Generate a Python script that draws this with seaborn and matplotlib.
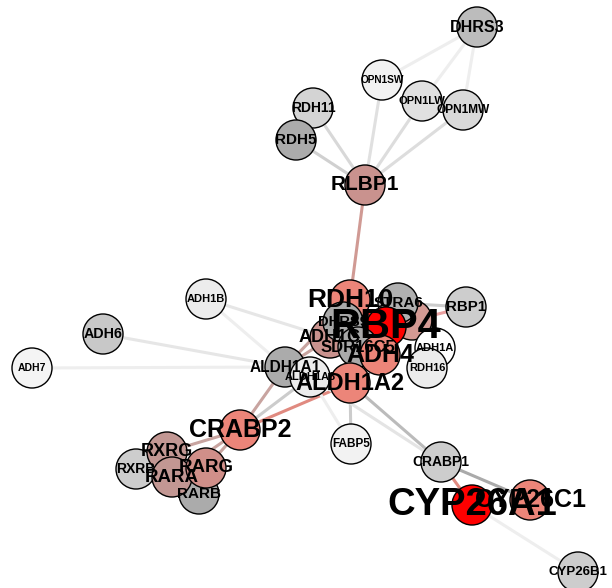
import matplotlib
matplotlib.use("Agg")
import matplotlib.pyplot as plt
import pandas as pd
import seaborn as sns

# Node data (layout position in pixels, fill colour, label size)
node_names = [
    "OPN1SW", "OPN1LW", "OPN1MW", "DHRS3", "RDH11", "RDH5", "RLBP1",
    "ADH1B", "ADH6", "ADH7", "RBP1", "", "RDH10", "STRA6", "RBP4",
    "ADH1C", "DHRS9", "SDR16C5", "ADH4", "ADH1A", "RDH16",
    "ALDH1A1", "ALDH1A3", "ALDH1A2", "FABP5", "CRABP2",
    "RARB", "RXRB", "RXRG", "RARA", "RARG",
    "CRABP1", "CYP26B1", "CYP26C1", "CYP26A1",
]
node_x = [
    382, 422, 463, 477, 313, 296, 365,
    206, 103, 32, 466, 412, 350, 398, 386,
    330, 343, 358, 380, 435, 427,
    285, 310, 350, 351, 240,
    199, 136, 167, 172, 206,
    441, 578, 530, 472,
]
node_y = [
    80, 101, 110, 27, 108, 140, 185,
    299, 334, 368, 307, 320, 300, 303, 327,
    338, 322, 347, 355, 348, 368,
    367, 377, 383, 444, 430,
    494, 469, 452, 477, 468,
    462, 572, 500, 505,
]
node_colors = [
    "#f2f2f2", "#e0e0e0", "#d9d9d9", "#bcbcbc", "#d4d4d4", "#ababab", "#c9928e",
    "#ececec", "#c8c8c8", "#f4f4f4", "#cdcdcd", "#d49a94", "#ec8579", "#b0b0b0", "#ff0000",
    "#c9928e", "#a9a9a9", "#a9a9a9", "#ec8579", "#ffffff", "#ececec",
    "#ababab", "#ececec", "#ec8579", "#f2f2f2", "#ec8579",
    "#ababab", "#cdcdcd", "#c29793", "#c29793", "#d08f89",
    "#cdcdcd", "#cdcdcd", "#ec8579", "#ff0000",
]
label_sizes = [
    7.3, 8, 8.6, 11.5, 10, 11, 15,
    8, 10.3, 7.5, 10.8, 0, 19, 11, 30,
    13, 10.6, 12, 18, 8, 8,
    11.2, 8, 17, 8.5, 18,
    11, 10, 13, 13.5, 13.5,
    10, 9.5, 18, 27.5,
]

# Edges: source, target, colour
edge_source = [
    "DHRS3", "DHRS3", "DHRS3", "RLBP1", "RLBP1", "RLBP1", "RLBP1", "RLBP1",
    "RLBP1", "ADH1B", "ADH1B", "ADH6", "ADH7",
    "ALDH1A1", "ALDH1A3", "ALDH1A2", "CRABP2", "CRABP2", "CRABP2",
    "ALDH1A2", "ALDH1A3", "ALDH1A2", "ALDH1A3",
    "CRABP1", "CRABP1", "CYP26A1",
    "RBP4", "STRA6", "RBP4", "RBP4", "RBP4", "RDH10", "ALDH1A1", "ALDH1A1",
    "RDH10", "ADH4", "RBP4", "RBP4",
]
edge_target = [
    "OPN1SW", "OPN1LW", "OPN1MW", "OPN1SW", "OPN1LW", "OPN1MW", "RDH11", "RDH5",
    "RDH10", "ADH1C", "ALDH1A1", "ALDH1A1", "ALDH1A1",
    "CRABP2", "CRABP2", "CRABP2", "RARG", "RXRG", "RARA",
    "FABP5", "FABP5", "CRABP1", "CRABP1",
    "CYP26C1", "CYP26A1", "CYP26B1",
    "RBP1", "RBP1", "STRA6", "RDH10", "ADH4", "ALDH1A2", "ADH1C", "RDH10",
    "ADH1C", "ALDH1A2", "ALDH1A2", "ADH1A",
]
edge_colors = [
    "#eeeeee", "#eeeeee", "#eeeeee", "#e0e0e0", "#dddddd", "#dddddd", "#d8d8d8", "#d0d0d0",
    "#d09a94", "#e6e6e6", "#eeeeee", "#e6e6e6", "#eeeeee",
    "#c8a4a0", "#cccccc", "#e08a80", "#c8a4a0", "#c8a4a0", "#c8a4a0",
    "#cccccc", "#eeeeee", "#bbbbbb", "#e4e4e4",
    "#aaaaaa", "#e08a80", "#eeeeee",
    "#eaa0a0", "#cccccc", "#ff3030", "#ff3030", "#ff3030", "#e08a80", "#c8a4a0", "#c8a4a0",
    "#d09a94", "#e08a80", "#ff3030", "#dddddd",
]


def main():
    nodes = pd.DataFrame(
        {"name": node_names, "x": node_x, "y": node_y, "color": node_colors, "size": label_sizes}
    )
    nodes["node_id"] = [f"n{i}" for i in range(len(nodes))]
    pos = {n: (x, y) for n, x, y in zip(node_names, node_x, node_y) if n}

    sns.set_theme(style="white")
    plt.rcParams["font.family"] = ["Liberation Sans", "DejaVu Sans"]

    fig = plt.figure(figsize=(6.12, 5.88), dpi=100)
    ax = fig.add_axes([0, 0, 1, 1])

    # edges
    for s, t, c in zip(edge_source, edge_target, edge_colors):
        (x0, y0), (x1, y1) = pos[s], pos[t]
        ax.plot([x0, x1], [y0, y1], color=c, lw=2.2, zorder=1, solid_capstyle="round")

    # nodes
    sns.scatterplot(
        data=nodes,
        x="x",
        y="y",
        hue="node_id",
        palette=dict(zip(nodes["node_id"], nodes["color"])),
        s=830,
        edgecolor="black",
        linewidth=1,
        legend=False,
        ax=ax,
        zorder=2,
    )

    # labels
    for _, row in nodes.iterrows():
        if row["name"]:
            ax.text(
                row["x"], row["y"], row["name"], ha="center", va="center",
                fontsize=row["size"], fontweight="bold", color="black", zorder=3,
            )

    ax.set_xlim(0, 612)
    ax.set_ylim(588, 0)
    ax.set_axis_off()
    fig.savefig("out.png", dpi=100, facecolor="white")


if __name__ == "__main__":
    main()
